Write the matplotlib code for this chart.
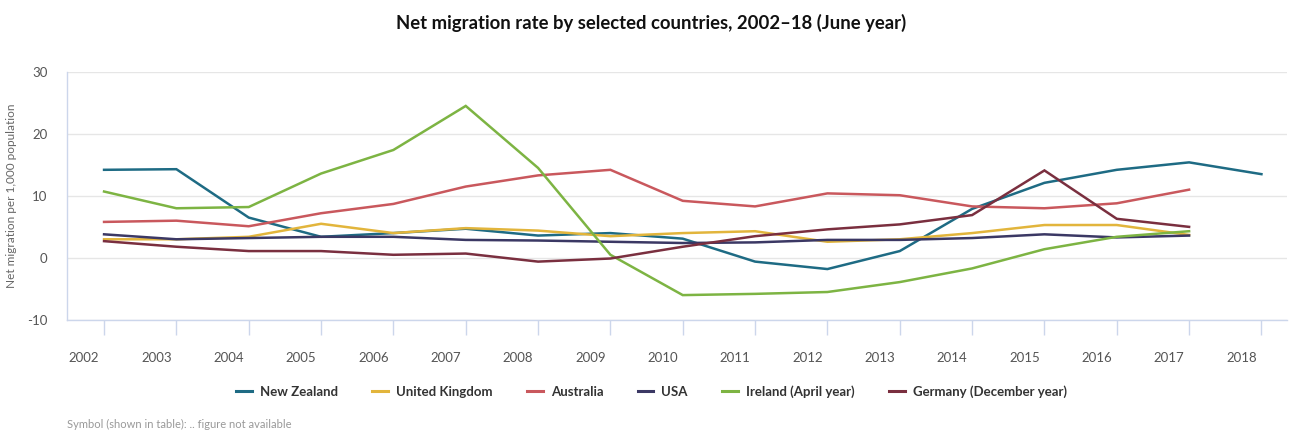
import matplotlib
matplotlib.use("Agg")
import matplotlib.pyplot as plt
from matplotlib.lines import Line2D

years = list(range(2002, 2019))

new_zealand = [14.2, 14.3, 6.5, 3.4, 4.0, 4.7, 3.6, 4.0, 3.1, -0.6, -1.8, 1.1, 7.9, 12.1, 14.2, 15.4, 13.5]
united_kingdom = [3.0, 3.0, 3.4, 5.5, 4.0, 4.8, 4.4, 3.5, 4.0, 4.3, 2.6, 3.0, 4.0, 5.3, 5.3, 3.7]
australia = [5.8, 6.0, 5.1, 7.2, 8.7, 11.5, 13.3, 14.2, 9.2, 8.3, 10.4, 10.1, 8.3, 8.0, 8.8, 11.0]
usa = [3.8, 3.0, 3.2, 3.4, 3.4, 2.9, 2.8, 2.6, 2.4, 2.5, 2.9, 2.9, 3.2, 3.8, 3.3, 3.6]
ireland = [10.7, 8.0, 8.2, 13.6, 17.4, 24.5, 14.5, 0.5, -6.0, -5.8, -5.5, -3.9, -1.7, 1.4, 3.4, 4.3]
germany = [2.7, 1.8, 1.1, 1.1, 0.5, 0.7, -0.6, -0.1, 1.8, 3.5, 4.6, 5.4, 6.9, 14.1, 6.3, 5.0]

series_names = ["New Zealand", "United Kingdom", "Australia", "USA",
                "Ireland (April year)", "Germany (December year)"]
series_values = [new_zealand, united_kingdom, australia, usa, ireland, germany]
colors = ["#1e6b84", "#e2b53c", "#c9585d", "#3b3864", "#7db443", "#7a2f3f"]

y_ticks = [-10, 0, 10, 20, 30]

FONT = ["Lato", "DejaVu Sans"]
plt.rcParams["font.family"] = FONT

fig = plt.figure(figsize=(12.9, 4.3), dpi=100)
ax = fig.add_axes([0.052, 0.256, 0.946, 0.577])

for name, vals, c in zip(series_names, series_values, colors):
    ax.plot(years[:len(vals)], vals, color=c, lw=1.8, label=name,
            solid_joinstyle="miter", zorder=3)

ppy = 72.375
left_px, right_px = 67, 1288
x0 = 2002 - (104 - left_px) / ppy
x1 = 2002 + (right_px - 104) / ppy
ax.set_xlim(x0, x1)
ax.set_ylim(-10, 30)

ax.set_yticks(y_ticks)
ax.set_yticklabels([str(v) for v in y_ticks])
ax.grid(axis="y", color="#e6e6e6", lw=1)
ax.set_axisbelow(True)

# major ticks mark the data positions; labels sit slightly left (minor ticks)
label_shift = 20 / ppy
ax.set_xticks(years)
ax.set_xticklabels([])
ax.set_xticks([y - label_shift for y in years], minor=True)
ax.set_xticklabels([str(y) for y in years], minor=True)

for s in ["top", "right"]:
    ax.spines[s].set_visible(False)
for s in ["left", "bottom"]:
    ax.spines[s].set_color("#ccd6eb")
    ax.spines[s].set_linewidth(1)

ax.tick_params(axis="x", which="major", length=11, color="#ccd6eb", width=1)
ax.tick_params(axis="x", which="minor", length=0, pad=23,
               labelsize=9.5, labelcolor="#555555")
ax.tick_params(axis="y", length=0, pad=14, labelsize=9.5, labelcolor="#555555")

ax.set_ylabel("Net migration per 1,000 population", fontsize=8.5, color="#666666")
ax.yaxis.set_label_coords(-0.041, 0.5)

fig.text(0.505, 0.947, "Net migration rate by selected countries, 2002\u201318 (June year)",
         ha="center", va="center", fontsize=13.3, fontweight="bold", color="#111111")

handles = [Line2D([0], [0], color=c, lw=2.2) for c in colors]
leg = fig.legend(handles, series_names, loc="center", bbox_to_anchor=(0.505, 0.09),
                 ncol=6, frameon=False, handlelength=1.2, handletextpad=0.6,
                 columnspacing=2.6, prop={"family": FONT, "weight": "bold", "size": 9.5})
for t in leg.get_texts():
    t.set_color("#333333")

fig.text(0.052, 0.014, "Symbol (shown in table): .. figure not available",
         fontsize=8, color="#999999", ha="left", va="center")

fig.savefig("out.png", dpi=100)
